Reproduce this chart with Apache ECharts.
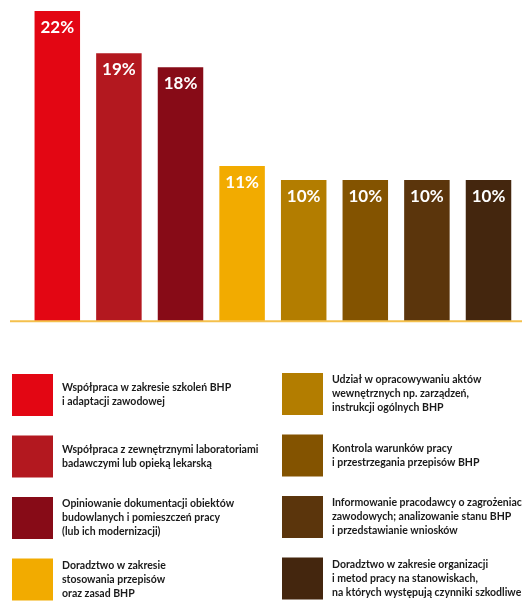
<!DOCTYPE html>
<html>
<head>
<meta charset="utf-8">
<script src="https://cdn.jsdelivr.net/npm/echarts@6/dist/echarts.min.js"></script>
<style>html,body{margin:0;padding:0;background:#fff;}#c{width:522px;height:601px;}</style>
</head>
<body>
<div id="c"></div>
<script>
const categories = [
  'Współpraca w zakresie szkoleń BHP\ni adaptacji zawodowej',
  'Współpraca z zewnętrznymi laboratoriami\nbadawczymi lub opieką lekarską',
  'Opiniowanie dokumentacji obiektów\nbudowlanych i pomieszczeń pracy\n(lub ich modernizacji)',
  'Doradztwo w zakresie\nstosowania przepisów\noraz zasad BHP',
  'Udział w opracowywaniu aktów\nwewnętrznych np. zarządzeń,\ninstrukcji ogólnych BHP',
  'Kontrola warunków pracy\ni przestrzegania przepisów BHP',
  'Informowanie pracodawcy o zagrożeniach\nzawodowych; analizowanie stanu BHP\ni przedstawianie wniosków',
  'Doradztwo w zakresie organizacji\ni metod pracy na stanowiskach,\nna których występują czynniki szkodliwe'
];
const values = [22, 19, 18, 11, 10, 10, 10, 10];
const colors = ['#e30613', '#b3181f', '#870b17', '#f2ab00', '#b37d00', '#835300', '#5b350c', '#44260e'];

const font = 'Lato';
const series = categories.map((name, i) => ({
  name: name,
  type: 'bar',
  stack: 'all',
  barWidth: 45.5,
  itemStyle: { color: colors[i] },
  data: values.map((v, j) => (j === i ? v : '-')),
  label: {
    show: true,
    position: 'insideTop',
    distance: 8,
    color: '#fff',
    fontFamily: font,
    fontWeight: 'bold',
    fontSize: 17,
    formatter: p => p.value + '%'
  }
}));

const chart = echarts.init(document.getElementById('c'));
const legendCommon = {
  orient: 'vertical',
  icon: 'rect',
  itemWidth: 41,
  itemHeight: 42,
  itemGap: 19.5,
  padding: 0,
  height: 400,
  selectedMode: false,
  textStyle: {
    fontFamily: font,
    fontWeight: 'bold',
    fontSize: 10.5,
    lineHeight: 14,
    color: '#1a1a1a',
    padding: [0, 0, 0, 4]
  }
};
chart.setOption({
  animation: false,
  grid: { left: 26.5, right: 2.7, top: 11, bottom: 280, containLabel: false },
  xAxis: {
    type: 'category',
    data: categories,
    axisLine: { show: false },
    axisTick: { show: false },
    axisLabel: { show: false }
  },
  yAxis: {
    type: 'value',
    min: 0,
    max: 22,
    show: false,
    splitLine: { show: false }
  },
  legend: [
    Object.assign({}, legendCommon, { left: 12, top: 374, data: categories.slice(0, 4) }),
    Object.assign({}, legendCommon, { left: 282, top: 373, data: categories.slice(4) })
  ],
  graphic: [{
    type: 'line',
    shape: { x1: 10, y1: 321.3, x2: 522, y2: 321.3 },
    style: { stroke: '#f4c04c', lineWidth: 2 },
    z: 10
  }],
  series: series
});
</script>
</body>
</html>
